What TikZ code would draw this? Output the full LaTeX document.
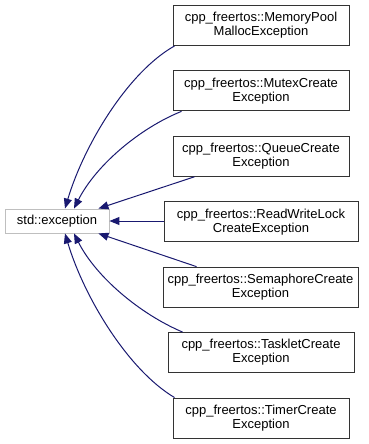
\documentclass[tikz,border=0pt]{standalone}
\usepackage{fontspec}
\setmainfont{Liberation Sans}
\usetikzlibrary{arrows.meta}
\definecolor{edgeblue}{HTML}{191970}
\definecolor{extgray}{HTML}{BFBFBF}
\tikzset{
  cls/.style={draw=black!80, line width=0.9pt, fill=white, align=center,
    minimum height=40pt, inner sep=0pt,
    font=\fontsize{13}{14}\selectfont},
  extcls/.style={draw=extgray, line width=0.9pt, fill=white,
    minimum width=104pt, minimum height=24pt, inner sep=0pt,
    font=\fontsize{13}{14}\selectfont},
  inherit/.style={draw=edgeblue, line width=1pt,
    -{Triangle[length=10pt,width=8pt]}},
}
\begin{document}
\begin{tikzpicture}[x=1pt, y=-1pt]
  \useasboundingbox (0,0) rectangle (369,444);

  % base class
  \node[extcls] (exc) at (57,221) {std::exception};

  % derived classes
  \node[cls, minimum width=176pt] (b1) at (261,25.5)  {cpp\_freertos::MemoryPool\\MallocException};
  \node[cls, minimum width=176pt] (b2) at (261,90.9)  {cpp\_freertos::MutexCreate\\Exception};
  \node[cls, minimum width=176pt] (b3) at (261,156.3) {cpp\_freertos::QueueCreate\\Exception};
  \node[cls, minimum width=194pt] (b4) at (261,221.7) {cpp\_freertos::ReadWriteLock\\CreateException};
  \node[cls, minimum width=195pt] (b5) at (260.5,287.1) {cpp\_freertos::SemaphoreCreate\\Exception};
  \node[cls, minimum width=186pt] (b6) at (261,352.5) {cpp\_freertos::TaskletCreate\\Exception};
  \node[cls, minimum width=176pt] (b7) at (261,418)   {cpp\_freertos::TimerCreate\\Exception};

  % inheritance arrows
  \draw[inherit] ([xshift=2pt]b1.south west) .. controls (128,72) and (84,145) .. ([xshift=8pt]exc.north);
  \draw[inherit] ([xshift=9pt]b2.south west) .. controls (140,128) and (96,165) .. ([xshift=17pt]exc.north);
  \draw[inherit] ([xshift=22pt]b3.south west) -- ([xshift=-11pt]exc.north east);
  \draw[inherit] (b4.west |- exc.east) -- (exc.east);
  \draw[inherit] ([xshift=34pt]b5.north west) -- ([xshift=-11pt]exc.south east);
  \draw[inherit] ([xshift=15pt]b6.north west) .. controls (140,314) and (96,277) .. ([xshift=17pt]exc.south);
  \draw[inherit] ([xshift=2pt]b7.north west) .. controls (128,370) and (84,297) .. ([xshift=8pt]exc.south);
\end{tikzpicture}
\end{document}
